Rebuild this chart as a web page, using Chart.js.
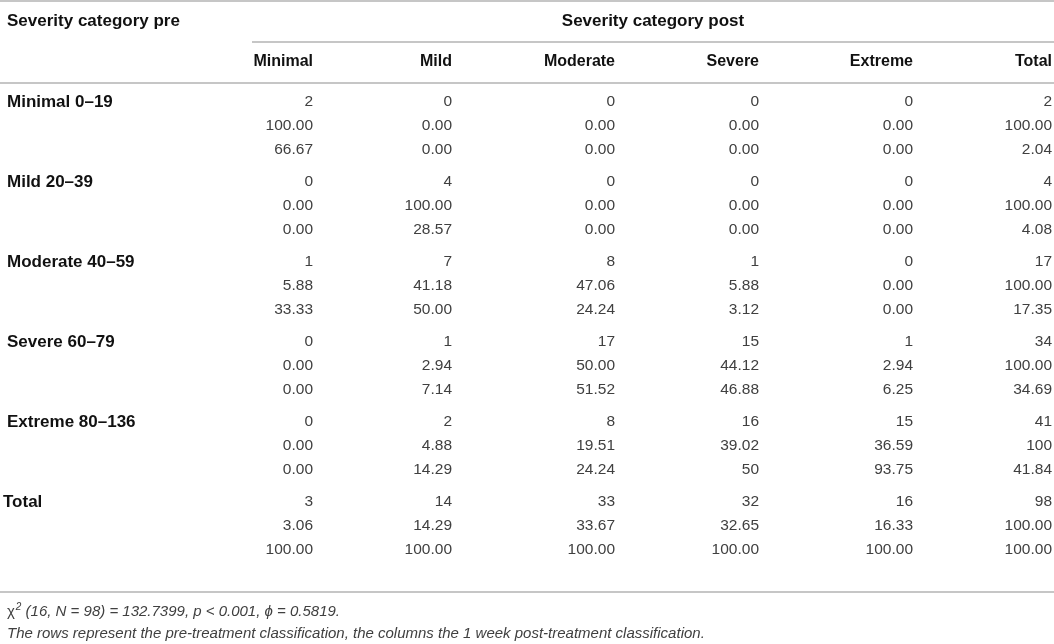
<!DOCTYPE html>
<html>
<head>
<meta charset="utf-8">
<script src="https://cdn.jsdelivr.net/npm/chart.js@4.4.1/dist/chart.umd.min.js"></script>
<style>
  html, body { margin: 0; padding: 0; background: #ffffff; }
  #wrap { position: relative; width: 1054px; height: 644px; }
</style>
</head>
<body>
<div id="wrap"><canvas id="tabela"></canvas></div>
<script>
const headerPre = 'Severity category pre'
const headerPost = 'Severity category post'
const rowLabels = ['Minimal 0–19', 'Mild 20–39', 'Moderate 40–59', 'Severe 60–79', 'Extreme 80–136', 'Total']
const colLabels = ['Minimal', 'Mild', 'Moderate', 'Severe', 'Extreme', 'Total']

const counts = [
  [2, 0, 0, 0, 0, 2],
  [0, 4, 0, 0, 0, 4],
  [1, 7, 8, 1, 0, 17],
  [0, 1, 17, 15, 1, 34],
  [0, 2, 8, 16, 15, 41],
  [3, 14, 33, 32, 16, 98]
]
const rowPercents = [
  ['100.00', '0.00', '0.00', '0.00', '0.00', '100.00'],
  ['0.00', '100.00', '0.00', '0.00', '0.00', '100.00'],
  ['5.88', '41.18', '47.06', '5.88', '0.00', '100.00'],
  ['0.00', '2.94', '50.00', '44.12', '2.94', '100.00'],
  ['0.00', '4.88', '19.51', '39.02', '36.59', '100'],
  ['3.06', '14.29', '33.67', '32.65', '16.33', '100.00']
]
const colPercents = [
  ['66.67', '0.00', '0.00', '0.00', '0.00', '2.04'],
  ['0.00', '28.57', '0.00', '0.00', '0.00', '4.08'],
  ['33.33', '50.00', '24.24', '3.12', '0.00', '17.35'],
  ['0.00', '7.14', '51.52', '46.88', '6.25', '34.69'],
  ['0.00', '14.29', '24.24', '50', '93.75', '41.84'],
  ['100.00', '100.00', '100.00', '100.00', '100.00', '100.00']
]

const statSymbol = 'χ'
const statSup = '2'
const statText = ' (16, N = 98) = 132.7399, p < 0.001, ϕ = 0.5819.'
const noteText = 'The rows represent the pre-treatment classification, the columns the 1 week post-treatment classification.'

// layout (canvas pixels)
const W = 1054, H = 644
const colRight = [313, 452, 615, 759, 913, 1052]
const firstRowY = 102
const groupStep = 80
const lineStep = 24

const fontFam = '"Liberation Sans", Arial, Helvetica, sans-serif'
const headColor = '#111111'
const cellColor = '#404040'
const ruleColor = '#c6c6c6'

function cellPoints(values, k) {
  const pts = []
  values.forEach((row, r) => {
    row.forEach((v, c) => pts.push({ x: colRight[c], y: firstRowY + r * groupStep + k * lineStep, text: String(v) }))
  })
  return pts
}

const kinds = [counts, rowPercents, colPercents]
const datasets = kinds.map((vals, k) => ({
  label: 'k' + k,
  data: cellPoints(vals, k),
  pointRadius: 0,
  pointHoverRadius: 0,
  clip: false
}))

const tablePlugin = {
  id: 'tablePlugin',
  afterDatasetsDraw(chart) {
    const ctx = chart.ctx
    const x = chart.scales.x
    const y = chart.scales.y
    ctx.save()

    // linhas da tabela
    ctx.strokeStyle = ruleColor
    ctx.lineWidth = 2
    const rules = [[0, W, 1], [252, W, 42], [0, W, 83], [0, W, 592]]
    rules.forEach(r => {
      ctx.beginPath()
      ctx.moveTo(x.getPixelForValue(r[0]), y.getPixelForValue(r[2]))
      ctx.lineTo(x.getPixelForValue(r[1]), y.getPixelForValue(r[2]))
      ctx.stroke()
    })

    // cabecalhos
    ctx.fillStyle = headColor
    ctx.textBaseline = 'middle'
    ctx.font = 'bold 17px ' + fontFam
    ctx.textAlign = 'left'
    ctx.fillText(headerPre, x.getPixelForValue(7), y.getPixelForValue(21))
    ctx.textAlign = 'center'
    ctx.fillText(headerPost, x.getPixelForValue(653), y.getPixelForValue(21))
    ctx.font = 'bold 16px ' + fontFam
    ctx.textAlign = 'right'
    colLabels.forEach((l, c) => ctx.fillText(l, x.getPixelForValue(colRight[c]), y.getPixelForValue(62)))
    ctx.font = 'bold 17px ' + fontFam
    ctx.textAlign = 'left'
    rowLabels.forEach((l, r) => {
      const left = r === rowLabels.length - 1 ? 3 : 7
      ctx.fillText(l, x.getPixelForValue(left), y.getPixelForValue(firstRowY + r * groupStep))
    })

    // celulas
    ctx.fillStyle = cellColor
    ctx.font = '15.5px ' + fontFam
    ctx.textAlign = 'right'
    chart.data.datasets.forEach((ds, i) => {
      chart.getDatasetMeta(i).data.forEach((el, j) => {
        ctx.fillText(ds.data[j].text, el.x, el.y)
      })
    })

    // notas
    ctx.textAlign = 'left'
    ctx.font = '15px ' + fontFam
    let fx = x.getPixelForValue(7)
    const fy = y.getPixelForValue(612)
    ctx.fillText(statSymbol, fx, fy)
    fx += ctx.measureText(statSymbol).width + 1
    ctx.font = 'italic 10px ' + fontFam
    ctx.fillText(statSup, fx, fy - 5)
    fx += ctx.measureText(statSup).width
    ctx.font = 'italic 15px ' + fontFam
    ctx.fillText(statText, fx, fy)
    ctx.fillText(noteText, x.getPixelForValue(7), y.getPixelForValue(634))
    ctx.restore()
  }
}

new Chart(document.getElementById('tabela').getContext('2d'), {
  type: 'scatter',
  data: { datasets: datasets },
  options: {
    responsive: true,
    maintainAspectRatio: false,
    animation: false,
    layout: { padding: 0 },
    scales: {
      x: { type: 'linear', min: 0, max: W, display: false },
      y: { type: 'linear', min: 0, max: H, reverse: true, display: false }
    },
    plugins: {
      legend: { display: false },
      tooltip: { enabled: false }
    }
  },
  plugins: [tablePlugin]
})
</script>
</body>
</html>
